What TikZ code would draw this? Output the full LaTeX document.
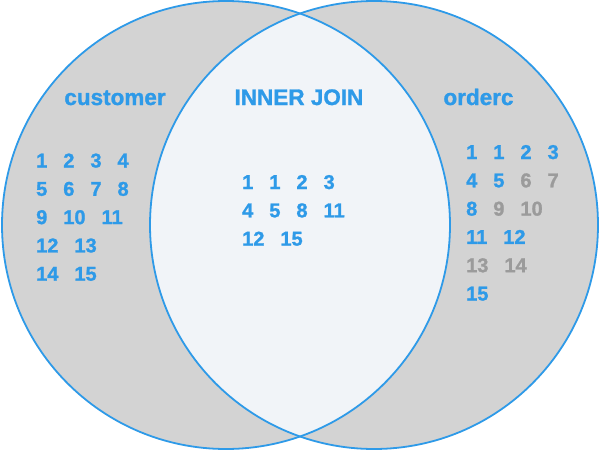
\documentclass[tikz,border=0pt]{standalone}
\usepackage{fontspec}
\setmainfont{Liberation Sans}[BoldFeatures={FakeBold=1.2}]
\definecolor{jblue}{RGB}{46,154,232}
\definecolor{jgray}{RGB}{211,211,211}
\definecolor{jlens}{RGB}{241,244,248}
\definecolor{jdim}{RGB}{155,155,155}
\newcommand{\gp}{\hspace{16pt}}
\newcommand{\dm}[1]{\textcolor{jdim}{#1}}
\tikzset{
  setcircle/.style={draw=jblue, line width=1.8pt},
  lbl/.style={anchor=base, inner sep=0pt, text=jblue, font=\fontsize{22.5}{24}\selectfont\bfseries},
  nums/.style={anchor=base west, inner sep=0pt, text=jblue, font=\fontsize{20}{22}\selectfont\bfseries}
}
\begin{document}
\begin{tikzpicture}[x=1pt,y=-1pt]
\useasboundingbox (0,0) rectangle (600,450);
\coordinate (cl) at (226,225);
\coordinate (cr) at (374,225);
\fill[jgray] (cl) circle (224);
\fill[jgray] (cr) circle (224);
\begin{scope}
\clip (cl) circle (224);
\fill[jlens] (cr) circle (224);
\end{scope}
\draw[setcircle] (cl) circle (224);
\draw[setcircle] (cr) circle (224);
% labels
\node[lbl] (lc) at (115,105) {customer};
\node[lbl] (lj) at (299,105) {INNER JOIN};
\node[lbl] (lo) at (478.5,105) {orderc};
% customer
\node[nums] (c1) at (36,167.5) {1\gp2\gp3\gp4};
\node[nums] (c2) at (36,195.8) {5\gp6\gp7\gp8};
\node[nums] (c3) at (36,224.1) {9\gp10\gp11};
\node[nums] (c4) at (36,252.4) {12\gp13};
\node[nums] (c5) at (36,280.7) {14\gp15};
% inner join
\node[nums] (j1) at (242,189) {1\gp1\gp2\gp3};
\node[nums] (j2) at (242,217.3) {4\gp5\gp8\gp11};
\node[nums] (j3) at (242,245.6) {12\gp15};
% orderc
\node[nums] (o1) at (466,159) {1\gp1\gp2\gp3};
\node[nums] (o2) at (466,187.3) {4\gp5\gp\dm{6}\gp\dm{7}};
\node[nums] (o3) at (466,215.6) {8\gp\dm{9}\gp\dm{10}};
\node[nums] (o4) at (466,243.9) {11\gp12};
\node[nums] (o5) at (466,272.2) {\dm{13}\gp\dm{14}};
\node[nums] (o6) at (466,300.5) {15};
\end{tikzpicture}
\end{document}
